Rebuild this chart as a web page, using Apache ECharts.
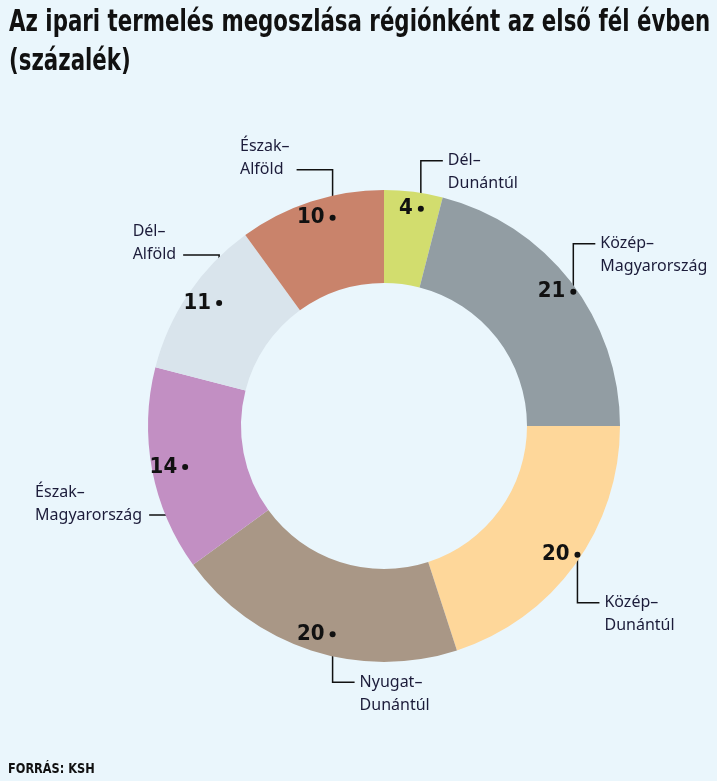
<!DOCTYPE html>
<html>
<head>
<meta charset="utf-8">
<script src="https://cdn.jsdelivr.net/npm/echarts@6/dist/echarts.min.js"></script>
<style>
  html, body { margin: 0; padding: 0; background: #eaf6fc; }
  #chart { width: 717px; height: 781px; }
</style>
</head>
<body>
<div id="chart"></div>
<script>
// data
var regions = ["Dél–\nDunántúl", "Közép–\nMagyarország", "Közép–\nDunántúl", "Nyugat–\nDunántúl", "Észak–\nMagyarország", "Dél–\nAlföld", "Észak–\nAlföld"];
var shares = [4, 21, 20, 20, 14, 11, 10];
var colors = ["#d2dd6e", "#929da3", "#fed79a", "#a99786", "#c28fc3", "#d9e4ec", "#c9836b"];

var titleLines = ["Az ipari termelés megoszlása régiónként az első fél évben", "(százalék)"];
var source = "FORRÁS: KSH";

var CX = 384, CY = 426;
var R0 = 143, R1 = 236;
var RD = 216; // radius where the value labels sit
var condensed = '"Liberation Sans Narrow", "DejaVu Sans Condensed", sans-serif';

var chart = echarts.init(document.getElementById("chart"));

var pieData = regions.map(function (name, i) {
  return { name: name, value: shares[i] };
});

var lineH = 23;
var dots = []; // dot position of every value label, filled by the value series

chart.setOption({
  backgroundColor: "#eaf6fc",
  animation: false,
  graphic: [
    {
      type: "text", x: 9, y: 7, scaleX: 0.765, silent: true,
      style: { text: titleLines[0], font: "bold 31px " + condensed, fill: "#111" }
    },
    {
      type: "text", x: 9, y: 46, scaleX: 0.765, silent: true,
      style: { text: titleLines[1], font: "bold 31px " + condensed, fill: "#111" }
    },
    {
      type: "text", x: 8, y: 762, scaleX: 0.9, silent: true,
      style: { text: source, font: "bold 14px " + condensed, fill: "#111" }
    }
  ],
  series: [
    {
      // the visible ring
      type: "pie",
      center: [CX, CY],
      radius: [R0, R1],
      startAngle: 90,
      clockwise: true,
      silent: true,
      label: { show: false },
      labelLine: { show: false },
      data: pieData.map(function (d, i) {
        return { name: d.name, value: d.value, itemStyle: { color: colors[i] } };
      })
    },
    {
      // values with the dot
      type: "pie",
      center: [CX, CY],
      radius: [2 * RD - R1, R1],
      startAngle: 90,
      silent: true,
      itemStyle: { color: "transparent" },
      emphasis: { disabled: true },
      label: {
        show: true,
        position: "inside",
        formatter: "{n|{c}}{d| }",
        rich: {
          n: { fontFamily: condensed, fontWeight: "bold", fontSize: 22, color: "#111", padding: [0, 5, 0, 0] },
          d: { width: 6, height: 6, borderRadius: 3, backgroundColor: "#111", verticalAlign: "middle" }
        }
      },
      labelLayout: function (p) {
        var r = p.labelRect;
        dots[p.dataIndex] = [r.x + r.width - 3, r.y + r.height / 2];
        return {};
      },
      data: pieData
    },
    {
      // region names with leader lines starting at the dot
      type: "pie",
      center: [CX, CY],
      radius: [0, RD],
      startAngle: 90,
      silent: true,
      avoidLabelOverlap: false,
      itemStyle: { color: "transparent" },
      emphasis: { disabled: true },
      label: {
        show: true,
        position: "outside",
        formatter: "{b}",
        fontFamily: "Noto Sans",
        fontSize: 16,
        lineHeight: lineH,
        color: "#1c1c3a"
      },
      labelLine: { show: true, length: 10, length2: 10, lineStyle: { color: "#111", width: 1.5 } },
      labelLayout: function (p) {
        var pts = p.labelLinePoints;
        if (!pts) return {};
        var d = dots[p.dataIndex] || pts[0];
        var x0 = d[0], y0 = d[1];
        var down = y0 > CY;
        var right = x0 > CX || (y0 - CY) > Math.abs(x0 - CX);
        var y1 = down ? y0 + 48 : y0 - 48;
        var x1 = right ? x0 + 22 : x0 - 36;
        return {
          x: right ? x1 + 5 : x1 - 7 - p.labelRect.width,
          y: right ? y1 - lineH / 2 : y1 + lineH / 2,
          align: "left",
          verticalAlign: right ? "top" : "bottom",
          labelLinePoints: [[x0, y0], [x0, y1], [x1, y1]]
        };
      },
      data: pieData
    }
  ]
});
</script>
</body>
</html>
